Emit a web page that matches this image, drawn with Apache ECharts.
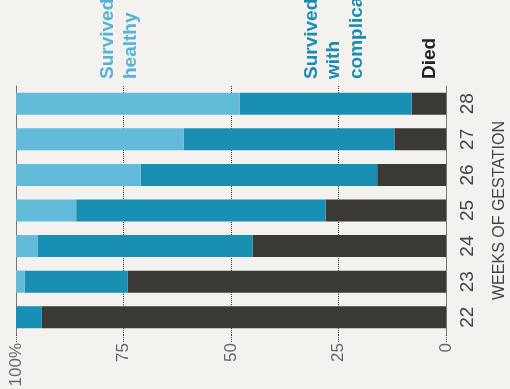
<!DOCTYPE html>
<html>
<head>
<meta charset="utf-8">
<script src="https://cdn.jsdelivr.net/npm/echarts@6/dist/echarts.min.js"></script>
<style>
  html, body { margin: 0; padding: 0; background: #f3f2ef; }
  #chart { width: 510px; height: 389px; }
</style>
</head>
<body>
<div id="chart"></div>
<script>
// weeks of gestation, share of babies (%)
const weeks = ['22', '23', '24', '25', '26', '27', '28'];
const healthy = [0, 2, 5, 14, 29, 39, 52];
const complications = [6, 24, 50, 58, 55, 49, 40];
const died = [94, 74, 45, 28, 16, 12, 8];
const pctTicks = [0, 25, 50, 75, 100];

const chart = echarts.init(document.getElementById('chart'));

const barBase = {
  type: 'bar',
  stack: 'all',
  barWidth: 22,
  yAxisIndex: 0,
};

const option = {
  backgroundColor: '#f3f2ef',
  animation: false,
  grid: {
    left: 16,
    right: 64,
    top: 86,
    bottom: 54,
    outerBoundsMode: 'none', // keep the grid where it is, labels may hang out
    containLabel: false
  },
  xAxis: {
    type: 'value',
    inverse: true, // 100% on the left, 0 on the right
    min: 0,
    max: 100,
    interval: 25,
    axisLine: { show: false },
    axisTick: {
      show: true,
      length: 7,
      lineStyle: { color: '#444', type: 'dotted' }
    },
    axisLabel: {
      rotate: 90,
      margin: 8,
      fontSize: 17,
      color: '#666',
      fontFamily: 'Liberation Sans',
      formatter: v => (v === 100 ? '100%' : (pctTicks.includes(v) ? String(v) : ''))
    },
    splitLine: {
      show: true,
      lineStyle: { color: '#333', type: 'dotted', width: 1 }
    }
  },
  yAxis: [
    {
      type: 'category',
      data: weeks,
      position: 'right',
      axisLine: { show: true, lineStyle: { color: '#777', width: 1 } },
      axisTick: { show: false },
      axisLabel: {
        rotate: 90,
        margin: 12,
        fontSize: 19,
        color: '#444',
        fontFamily: 'Liberation Sans'
      },
      name: 'WEEKS OF GESTATION',
      nameLocation: 'middle',
      nameRotate: 90,
      nameGap: 46,
      nameTextStyle: {
        fontSize: 16,
        color: '#444',
        fontFamily: 'Liberation Sans'
      }
    },
    {
      // left edge line at 100%
      type: 'category',
      data: weeks,
      position: 'left',
      axisLine: { show: true, lineStyle: { color: '#777', width: 1 } },
      axisTick: { show: false },
      axisLabel: { show: false }
    }
  ],
  graphic: [
    { type: 'text', x: 108, y: 79, rotation: Math.PI / 2,
      style: { text: 'Survived', fill: '#55b3d8', font: 'bold 19px "Liberation Sans"', textAlign: 'left', textVerticalAlign: 'middle' } },
    { type: 'text', x: 131, y: 79, rotation: Math.PI / 2,
      style: { text: 'healthy', fill: '#55b3d8', font: 'bold 19px "Liberation Sans"', textAlign: 'left', textVerticalAlign: 'middle' } },
    { type: 'text', x: 312, y: 79, rotation: Math.PI / 2,
      style: { text: 'Survived', fill: '#1b8cb4', font: 'bold 19px "Liberation Sans"', textAlign: 'left', textVerticalAlign: 'middle' } },
    { type: 'text', x: 334, y: 79, rotation: Math.PI / 2,
      style: { text: 'with', fill: '#1b8cb4', font: 'bold 19px "Liberation Sans"', textAlign: 'left', textVerticalAlign: 'middle' } },
    { type: 'text', x: 357, y: 79, rotation: Math.PI / 2,
      style: { text: 'complications', fill: '#1b8cb4', font: 'bold 19px "Liberation Sans"', textAlign: 'left', textVerticalAlign: 'middle' } },
    { type: 'text', x: 430, y: 79, rotation: Math.PI / 2,
      style: { text: 'Died', fill: '#222', font: 'bold 19px "Liberation Sans"', textAlign: 'left', textVerticalAlign: 'middle' } }
  ],
  series: [
    { ...barBase, name: 'Died', data: died, itemStyle: { color: '#3b3936' } },
    { ...barBase, name: 'Survived with complications', data: complications, itemStyle: { color: '#1a8fb4' } },
    { ...barBase, name: 'Survived healthy', data: healthy, itemStyle: { color: '#63bbda' } }
  ]
};

chart.setOption(option);
</script>
</body>
</html>
